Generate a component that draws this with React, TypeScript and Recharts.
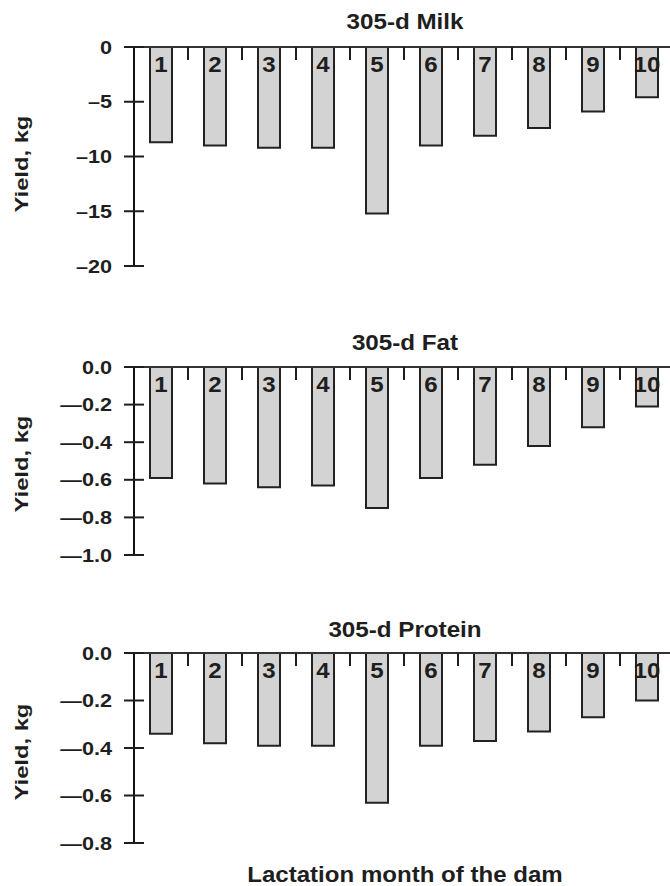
import React from 'react';
import { BarChart, Bar, XAxis, YAxis, LabelList } from 'recharts';

const months = [1, 2, 3, 4, 5, 6, 7, 8, 9, 10];
const milkValues = [-8.7, -9.0, -9.2, -9.2, -15.2, -9.0, -8.1, -7.4, -5.9, -4.6];
const fatValues = [-0.59, -0.62, -0.64, -0.63, -0.75, -0.59, -0.52, -0.42, -0.32, -0.21];
const proteinValues = [-0.34, -0.38, -0.39, -0.39, -0.63, -0.39, -0.37, -0.33, -0.27, -0.2];
const xBoundaryTicks = [1.5, 2.5, 3.5, 4.5, 5.5, 6.5, 7.5, 8.5, 9.5];
const milkTicks = [0, -5, -10, -15, -20];
const fatTicks = [0, -0.2, -0.4, -0.6, -0.8, -1.0];
const proteinTicks = [0, -0.2, -0.4, -0.6, -0.8];
const titles = ['305-d Milk', '305-d Fat', '305-d Protein'];
const yLabel = 'Yield, kg';
const xLabel = 'Lactation month of the dam';

const FONT = '"Liberation Sans", Arial, Helvetica, sans-serif';
const INK = '#1e1e1e';

const build = (vals: number[]) => months.map((m, i) => ({ m, v: vals[i] }));

const fmtMilk = (v: number) => (v === 0 ? '0' : '\u2013' + Math.abs(v));
const fmtDec = (v: number) => (v === 0 ? '0.0' : '\u2014' + Math.abs(v).toFixed(1));

function YTick(props: any) {
  const { x, y, payload, fmt } = props;
  return (
    <g>
      <line x1={x + 12} x2={x + 32} y1={y} y2={y} stroke={INK} strokeWidth={2} />
      <g transform={`translate(${x},${y}) scale(1.17,1)`}>
        <text x={0} y={0} dy="0.36em" textAnchor="end" fontFamily={FONT} fontWeight="bold" fontSize={18.5} fill={INK}>
          {fmt(payload.value)}
        </text>
      </g>
    </g>
  );
}

function XTick(props: any) {
  const { x, y } = props;
  return <line x1={x} x2={x} y1={y - 14} y2={y - 1} stroke={INK} strokeWidth={2} />;
}

function BarNum(props: any) {
  const { x, y, width, height, value } = props;
  const top = Math.min(y, y + height);
  return (
    <g transform={`translate(${x + width / 2},${top + 25}) scale(1.12,1)`}>
      <text x={0} y={0} textAnchor="middle" fontFamily={FONT} fontWeight="bold" fontSize={21.5} fill={INK}>
        {value}
      </text>
    </g>
  );
}

function Panel(props: { top: number; height: number; vals: number[]; domain: number[]; ticks: number[]; fmt: (v: number) => string }) {
  const { top, height, vals, domain, ticks, fmt } = props;
  return (
    <div style={{ position: 'absolute', left: 0, top, width: 680, height }}>
      <BarChart width={680} height={height} data={build(vals)} margin={{ top: 47, right: 6, bottom: 14, left: 0 }}>
        <XAxis
          type="number"
          dataKey="m"
          domain={[0.5, 10.5]}
          ticks={xBoundaryTicks}
          orientation="top"
          mirror
          interval={0}
          tick={(p: any) => <XTick {...p} />}
          tickSize={13}
          tickMargin={1}
          axisLine={{ stroke: '#333', strokeWidth: 2 }}
          tickLine={{ stroke: INK, strokeWidth: 2 }}
        />
        <YAxis
          type="number"
          domain={domain}
          ticks={ticks}
          interval={0}
          width={134}
          tickSize={10}
          tickMargin={12}
          tickLine={false}
          axisLine={{ stroke: '#111', strokeWidth: 2 }}
          tick={(p: any) => <YTick {...p} fmt={fmt} />}
        />
        <Bar dataKey="v" fill="#d3d3d3" stroke="#222" strokeWidth={2} barSize={22} isAnimationActive={false}>
          <LabelList dataKey="m" content={BarNum} />
        </Bar>
      </BarChart>
    </div>
  );
}

export default function App() {
  const titleY = [29, 350, 637];
  const yLabelY = [164, 464, 752];
  return (
    <div style={{ position: 'fixed', left: 0, top: 0, width: 670, height: 886, overflow: 'hidden', background: '#fff' }}>
      <Panel top={0} height={280} vals={milkValues} domain={[-20, 0]} ticks={milkTicks} fmt={fmtMilk} />
      <Panel top={320} height={249} vals={fatValues} domain={[-1, 0]} ticks={fatTicks} fmt={fmtDec} />
      <Panel top={606} height={251} vals={proteinValues} domain={[-0.8, 0]} ticks={proteinTicks} fmt={fmtDec} />
      <svg width={670} height={886} style={{ position: 'absolute', left: 0, top: 0, pointerEvents: 'none' }}>
        {titles.map((t, i) => (
          <g key={t} transform={`translate(405,${titleY[i]}) scale(1.1,1)`}>
            <text x={0} y={0} textAnchor="middle" fontFamily={FONT} fontWeight="bold" fontSize={22} fill={INK}>
              {t}
            </text>
          </g>
        ))}
        {yLabelY.map((yy, i) => (
          <g key={i} transform={`translate(28,${yy}) rotate(-90) scale(1.25,1)`}>
            <text x={0} y={0} textAnchor="middle" fontFamily={FONT} fontWeight="bold" fontSize={19} fill={INK}>
              {yLabel}
            </text>
          </g>
        ))}
        <g transform="translate(405,882) scale(1.12,1)">
          <text x={0} y={0} textAnchor="middle" fontFamily={FONT} fontWeight="bold" fontSize={21.5} fill={INK}>
            {xLabel}
          </text>
        </g>
      </svg>
    </div>
  );
}
